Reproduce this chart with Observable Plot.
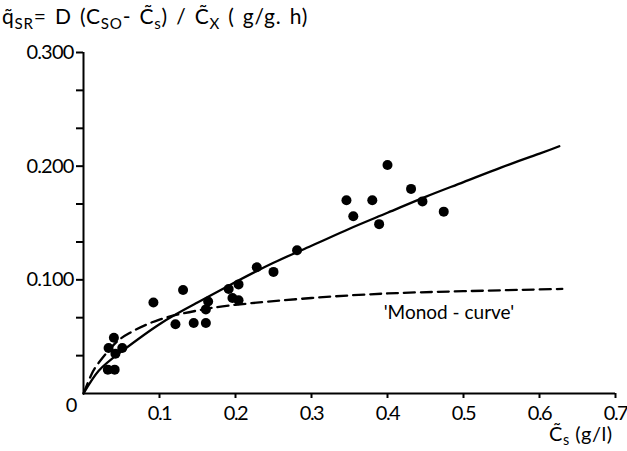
<!DOCTYPE html>
<html><head><meta charset="utf-8">
<script src="https://cdn.jsdelivr.net/npm/d3@7"></script>
<script src="https://cdn.jsdelivr.net/npm/@observablehq/plot@0.6"></script>
<style>
body{margin:0;background:#fff;}
#wrap{position:relative;width:627px;height:451px;font-family:Lato,sans-serif;color:#000;}
#chart{position:absolute;left:0;top:0;}
#ylab{position:absolute;left:2px;top:3px;font-size:21px;white-space:nowrap;letter-spacing:0.8px;word-spacing:2px;}
#xlab{position:absolute;left:549px;top:421px;font-size:20px;white-space:nowrap;letter-spacing:0.5px;}
sub{font-size:0.72em;vertical-align:-0.3em;line-height:0;}
g[aria-label="x-axis tick label"] text{letter-spacing:-1.5px;}
g[aria-label="y-axis tick label"] text{letter-spacing:-0.8px;}
</style></head><body>
<div id="wrap">
<div id="chart"></div>
<div id="ylab">q&#771;<sub>SR</sub>= D (C<sub>SO</sub>- C&#771;<sub>s</sub>) / C&#771;<sub>X</sub> ( g/g. h)</div>
<div id="xlab">C&#771;<sub>s</sub> (g/l)</div>
</div>
<script>
// observed points (C_s in g/l, q_SR in g/g.h)
const obsX = [0.040,0.033,0.051,0.042,0.032,0.041,0.092,0.131,0.121,0.145,0.161,0.161,0.164,0.191,0.196,0.204,0.204,0.228,0.250,0.281,0.346,0.355,0.380,0.389,0.400,0.431,0.446,0.474];
const obsY = [0.049,0.040,0.040,0.035,0.021,0.021,0.080,0.091,0.061,0.062,0.062,0.074,0.081,0.092,0.084,0.096,0.082,0.111,0.107,0.126,0.170,0.156,0.170,0.149,0.201,0.180,0.169,0.160];
// solid fitted curve
const fitX = [0,0.02,0.05,0.10,0.15,0.20,0.25,0.30,0.35,0.40,0.45,0.50,0.55,0.60,0.626];
const fitY = [0,0.020,0.037,0.061,0.080,0.098,0.115,0.130,0.145,0.159,0.173,0.186,0.199,0.211,0.2175];
// dashed Monod curve
const monodX = [0,0.01,0.02,0.04,0.06,0.10,0.15,0.20,0.30,0.40,0.50,0.63];
const monodY = [0,0.016,0.027,0.043,0.053,0.065,0.073,0.078,0.084,0.088,0.090,0.092];
// ticks
const xTicks = [0.1,0.2,0.3,0.4,0.5,0.6,0.7];
const yTicks = [0.1,0.2,0.3];
const yMinor = [0.0333,0.0667,0.1333,0.1667,0.2333,0.2667];
const originLabel = ["0"];
const monodLabel = ["'Monod - curve'"];
const monodLabelX = [0.395];
const monodLabelY = [0.071];

const obs = obsX.map((x,i)=>({x, y: obsY[i]}));
const fit = fitX.map((x,i)=>({x, y: fitY[i]}));
const monod = monodX.map((x,i)=>({x, y: monodY[i]}));
const labels = monodLabel.map((t,i)=>({t, x: monodLabelX[i], y: monodLabelY[i]}));

const chart = Plot.plot({
  width: 627, height: 451,
  marginLeft: 83, marginRight: 12, marginTop: 52, marginBottom: 58,
  x: {domain: [0, 0.7]},
  y: {domain: [0, 0.3]},
  style: {fontFamily: "Lato, sans-serif", fontSize: "20px", background: "white", color: "black"},
  marks: [
    Plot.ruleY([0], {x1: 0, x2: 0.7, strokeWidth: 2}),
    Plot.ruleX([0], {y1: 0, y2: 0.3, strokeWidth: 2}),
    Plot.axisY(yTicks, {tickSize: 7, tickPadding: 3, tickFormat: d => d.toFixed(3), label: null, strokeWidth: 2, fontSize: 20}),
    Plot.axisY(yMinor, {tickSize: 7, tickFormat: () => "", label: null, strokeWidth: 2}),
    Plot.axisX(xTicks, {tickSize: 5, tickPadding: 7, tickFormat: d => d.toFixed(1), label: null, strokeWidth: 2, fontSize: 20}),
    Plot.text(originLabel, {x: () => 0, y: () => 0, text: d => d, dx: -12, dy: 12, fontSize: 20}),
    Plot.line(fit, {x: "x", y: "y", curve: "natural", strokeWidth: 2.3}),
    Plot.line(monod, {x: "x", y: "y", curve: "natural", strokeWidth: 2.3, strokeDasharray: "11,6"}),
    Plot.dot(obs, {x: "x", y: "y", r: 5, fill: "black"}),
    Plot.text(labels, {x: "x", y: "y", text: "t", textAnchor: "start", fontSize: 19, letterSpacing: 0.4})
  ]
});
document.getElementById("chart").appendChild(chart);
</script>
</body></html>
